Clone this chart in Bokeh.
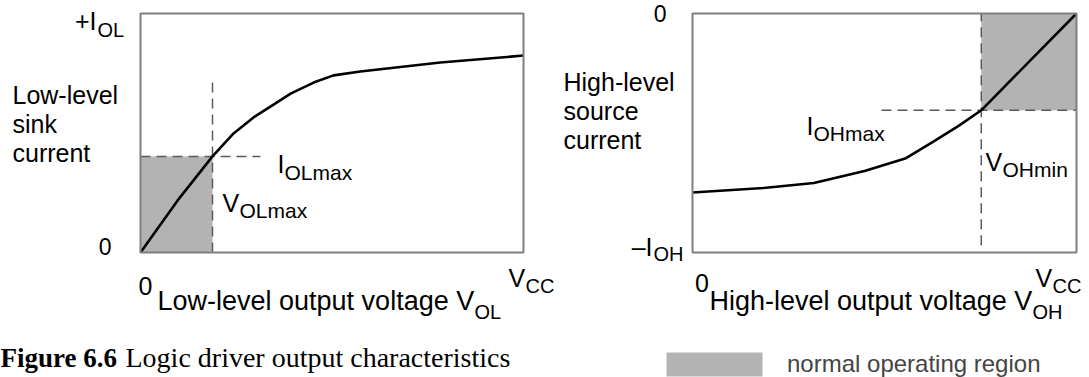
from bokeh.plotting import figure
from bokeh.layouts import row
from bokeh.models import Range1d, Label, Legend, LegendItem
from bokeh.embed import file_html
from bokeh.resources import INLINE

# ---------------- data (normalised: V_CC = 1, full-scale current = 1) ----------------
# Left: low-level sink current vs low-level output voltage
vol = [0.0, 0.097, 0.188, 0.243, 0.295, 0.332, 0.392, 0.452, 0.504, 0.574, 0.783, 1.0]
iol = [0.0, 0.218, 0.402, 0.498, 0.565, 0.603, 0.665, 0.711, 0.741, 0.757, 0.795, 0.824]
vol_max = 0.188
iol_max = 0.402

# Right: high-level source current vs high-level output voltage
voh = [0.0, 0.185, 0.316, 0.448, 0.554, 0.624, 0.694, 0.752, 1.0]
ioh = [-0.749, -0.730, -0.709, -0.659, -0.607, -0.539, -0.469, -0.405, 0.0]
voh_min = 0.752
ioh_max = -0.405

# ---------------- layout (pixels) ----------------
W, H = 1089, 377
W1 = 556                     # width of the left figure
L1, R1 = 140, 523            # left chart box
L2, R2 = 692, 1076           # right chart box
T, B = 13, 252               # chart box top / bottom

SANS = "Liberation Sans"
SERIF = "Liberation Serif"
FILL = "#b3b3b3"
DASH = "#5a5a5a"
BOX = "#7f7f7f"
COMP = 0.42   # baseline correction of Label text (fraction of font size)


def make_fig(width, x0px, x1px, ymin, ymax):
    sx = x1px - x0px
    sy = B - T
    xr = Range1d(-x0px / sx, (width - x0px) / sx)
    yr = Range1d(ymin - (H - B) / sy, ymax + T / sy)
    p = figure(width=width, height=H, x_range=xr, y_range=yr,
               x_axis_type=None, y_axis_type=None, toolbar_location=None,
               output_backend="svg", min_border=0)
    p.outline_line_color = None
    p.background_fill_color = "white"
    p.border_fill_color = "white"
    return p


def txt(p, text, x, y, dx, dy, size, align="left", font=SANS, style="normal"):
    p.add_layout(Label(x=x, y=y, x_offset=dx, y_offset=dy + COMP * size, text=text,
                       text_font=font, text_font_size=f"{size}px",
                       text_font_style=style, text_align=align,
                       text_baseline="alphabetic", text_color="black"))


MAIN = 25
SUB = 20
XL = 27

# ================= left chart =================
p1 = make_fig(W1, L1, R1, 0, 1)
p1.quad(left=[0], right=[vol_max], bottom=[0], top=[iol_max], fill_color=FILL, line_color=None)
p1.segment(x0=[vol_max, 0], y0=[0, iol_max], x1=[vol_max, 0.313], y1=[0.715, iol_max],
           line_color=DASH, line_width=1.5, line_dash="10 6")
p1.line(vol, iol, line_color="black", line_width=2.6, line_join="round")
p1.quad(left=[0], right=[1], bottom=[0], top=[1], fill_color=None, line_color=BOX, line_width=2)

txt(p1, "+I", 0, 1, -44, -18, MAIN, align="right")
txt(p1, "OL", 0, 1, -43, -25, SUB)
txt(p1, "0", 0, 0, -29, -4, 23, align="right")
txt(p1, "Low-level", 0, 0, -128, 147, MAIN)
txt(p1, "sink", 0, 0, -128, 118, MAIN)
txt(p1, "current", 0, 0, -128, 89, MAIN)
txt(p1, "I", 0, 0, 137, 78, MAIN)
txt(p1, "OLmax", 0, 0, 144, 71, 21)
txt(p1, "V", 0, 0, 82, 39, MAIN)
txt(p1, "OLmax", 0, 0, 99, 33, 21)
txt(p1, "0", 0, 0, 5, -44, MAIN, align="center")
txt(p1, "V", 1, 0, -15, -36, MAIN)
txt(p1, "CC", 1, 0, 2, -42, SUB)
txt(p1, "Low-level output voltage V", 0, 0, 17, -60, XL)
txt(p1, "OL", 0, 0, 334, -68, SUB)
# caption
txt(p1, "Figure 6.6", 0, 0, -140, -117, 27, font=SERIF, style="bold")
txt(p1, "Logic driver output characteristics", 0, 0, -15, -117, 28, font=SERIF)

# ================= right chart =================
p2 = make_fig(W - W1, L2 - W1, R2 - W1, -1, 0)
region = p2.quad(left=[voh_min], right=[1], bottom=[ioh_max], top=[0], fill_color=FILL, line_color=None)
p2.segment(x0=[voh_min, 0.492], y0=[-0.97, ioh_max], x1=[voh_min, 1], y1=[0, ioh_max],
           line_color=DASH, line_width=1.5, line_dash="10 6")
p2.line(voh, ioh, line_color="black", line_width=2.6, line_join="round")
p2.quad(left=[0], right=[1], bottom=[-1], top=[0], fill_color=None, line_color=BOX, line_width=2)

txt(p2, "0", 0, 0, -26, -10, 23, align="right")
txt(p2, "High-level", 0, -1, -129, 160, MAIN)
txt(p2, "source", 0, -1, -129, 131, MAIN)
txt(p2, "current", 0, -1, -129, 102, MAIN)
txt(p2, "I", 0, -1, 114, 116, MAIN)
txt(p2, "OHmax", 0, -1, 121, 110, 21)
txt(p2, "V", 0, -1, 293, 80, MAIN)
txt(p2, "OHmin", 0, -1, 310, 74, 21)
txt(p2, "\u2013I", 0, -1, -40, -5, MAIN, align="right")
txt(p2, "OH", 0, -1, -39, -10, SUB)
txt(p2, "0", 0, -1, 9.5, -41, MAIN, align="center")
txt(p2, "V", 1, -1, -41, -36, MAIN)
txt(p2, "CC", 1, -1, -24, -42, SUB)
txt(p2, "High-level output voltage V", 0, -1, 17, -60, XL)
txt(p2, "OH", 0, -1, 340, -68, SUB)

legend = Legend(items=[LegendItem(label="normal operating region", renderers=[region])],
                location=(654 - W1, -2), glyph_width=120, glyph_height=30,
                label_standoff=13, padding=0, margin=0, spacing=0,
                border_line_color=None, background_fill_alpha=0,
                label_text_font=SANS, label_text_font_size="24px", label_height=30)
p2.add_layout(legend)

layout = row(p1, p2, spacing=0)
open("out.html", "w").write(file_html(layout, INLINE))
